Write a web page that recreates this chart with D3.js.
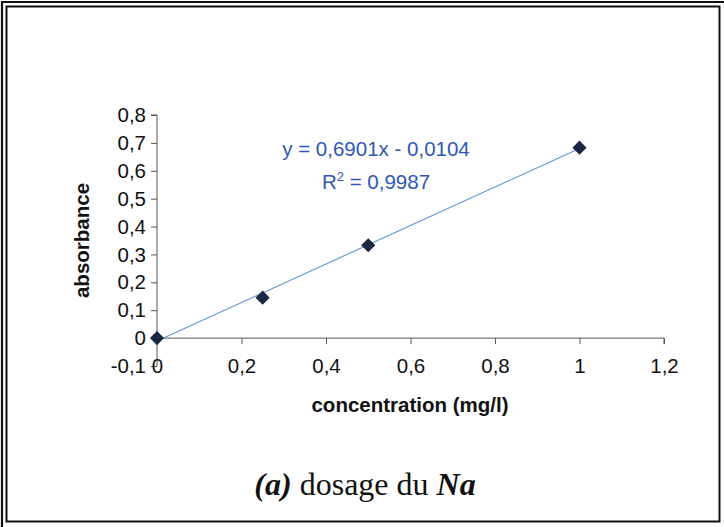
<!DOCTYPE html>
<html><head><meta charset="utf-8">
<script src="https://cdn.jsdelivr.net/npm/d3@7"></script>
<style>body{margin:0;background:#fff}svg{display:block}</style>
</head><body>
<svg id="c" width="724" height="527"></svg>
<script>
const concentration = [0, 0.25, 0.5, 1];
const absorbance = [0, 0.145, 0.333, 0.683];
const xTicks = [0, 0.2, 0.4, 0.6, 0.8, 1, 1.2];
const yTicks = [-0.1, 0, 0.1, 0.2, 0.3, 0.4, 0.5, 0.6, 0.7, 0.8];
const slope = 0.6901, intercept = -0.0104;
const eqText = "y = 0,6901x - 0,0104";
const r2Text = "0,9987";
const xTitle = "concentration (mg/l)";
const yTitle = "absorbance";

const svg = d3.select("#c");
const fmt = d => String(+d.toFixed(1)).replace(".", ",");

// frame
svg.append("path").attr("d","M2,527V2H724").attr("fill","none").attr("stroke","#111").attr("stroke-width",2.2);
svg.append("rect").attr("x",6.5).attr("y",6.5).attr("width",713).attr("height",515)
  .attr("fill","none").attr("stroke","#111").attr("stroke-width",2);

const x = d3.scaleLinear().domain([0,1.2]).range([157,664]);
const y = d3.scaleLinear().domain([-0.1,0.8]).range([366,115]);

const font = "Arial, 'Liberation Sans', sans-serif";
const fs = 20.5;

// y axis
const ya = svg.append("g").attr("transform",`translate(${x(0)},0)`)
  .call(d3.axisLeft(y).tickValues(yTicks).tickFormat(fmt).tickSize(6).tickPadding(5));
ya.select(".domain").attr("stroke","#555").attr("d",`M-6,${y(0.8)}H0V${y(-0.1)}`);
ya.selectAll(".tick line").attr("stroke","#555");
ya.selectAll(".tick text").attr("font-family",font).attr("font-size",fs).attr("fill","#111");

// x axis at y=0
const xa = svg.append("g").attr("transform",`translate(0,${y(0)})`)
  .call(d3.axisBottom(x).tickValues(xTicks).tickFormat(fmt).tickSize(6).tickPadding(0));
xa.select(".domain").attr("stroke","#555").attr("d",`M${x(0)},0H${x(1.2)}V6`);
xa.selectAll(".tick line").attr("stroke","#555");
xa.selectAll(".tick text").attr("font-family",font).attr("font-size",fs).attr("fill","#111")
  .attr("y", y(-0.1)-y(0)).attr("dy","0.35em");

// trendline
svg.append("line")
  .attr("x1",x(0)).attr("y1",y(intercept))
  .attr("x2",x(1)).attr("y2",y(slope*1+intercept))
  .attr("stroke","#6b9ad8").attr("stroke-width",1.2);

// markers (square rotated 45°)
svg.selectAll("path.pt").data(concentration).enter().append("path")
  .attr("class","pt")
  .attr("d", d3.symbol().type(d3.symbolSquare).size(100))
  .attr("transform",(d,i)=>`translate(${x(d)},${y(absorbance[i])}) rotate(45)`)
  .attr("fill","#1b2742");

// equation
const eq = svg.append("text").attr("font-family",font).attr("font-size",fs).attr("fill","#2f57b5")
  .attr("text-anchor","middle");
eq.append("tspan").attr("x",376).attr("y",156).text(eqText);
const r2 = svg.append("text").attr("font-family",font).attr("font-size",fs).attr("fill","#2f57b5")
  .attr("text-anchor","middle").attr("x",376).attr("y",189);
r2.append("tspan").text("R");
r2.append("tspan").attr("font-size",13).attr("dy",-8).text("2");
r2.append("tspan").attr("dy",8).text(" = " + r2Text);

// axis titles
svg.append("text").attr("font-family",font).attr("font-size",fs).attr("font-weight","bold")
  .attr("text-anchor","middle").attr("x",410).attr("y",412).attr("fill","#111").text(xTitle);
svg.append("text").attr("font-family",font).attr("font-size",fs).attr("font-weight","bold")
  .attr("text-anchor","middle").attr("transform",`translate(89,${(y(0.8)+y(-0.1))/2}) rotate(-90)`)
  .attr("fill","#111").text(yTitle);

// caption
const cap = svg.append("text").attr("font-family","'Liberation Serif','Times New Roman',serif")
  .attr("font-size",32).attr("text-anchor","middle").attr("x",365).attr("y",495).attr("fill","#111");
cap.append("tspan").attr("font-style","italic").attr("font-weight","bold").text("(a)");
cap.append("tspan").text(" dosage du ");
cap.append("tspan").attr("font-style","italic").attr("font-weight","bold").text("Na");
</script>
</body></html>
